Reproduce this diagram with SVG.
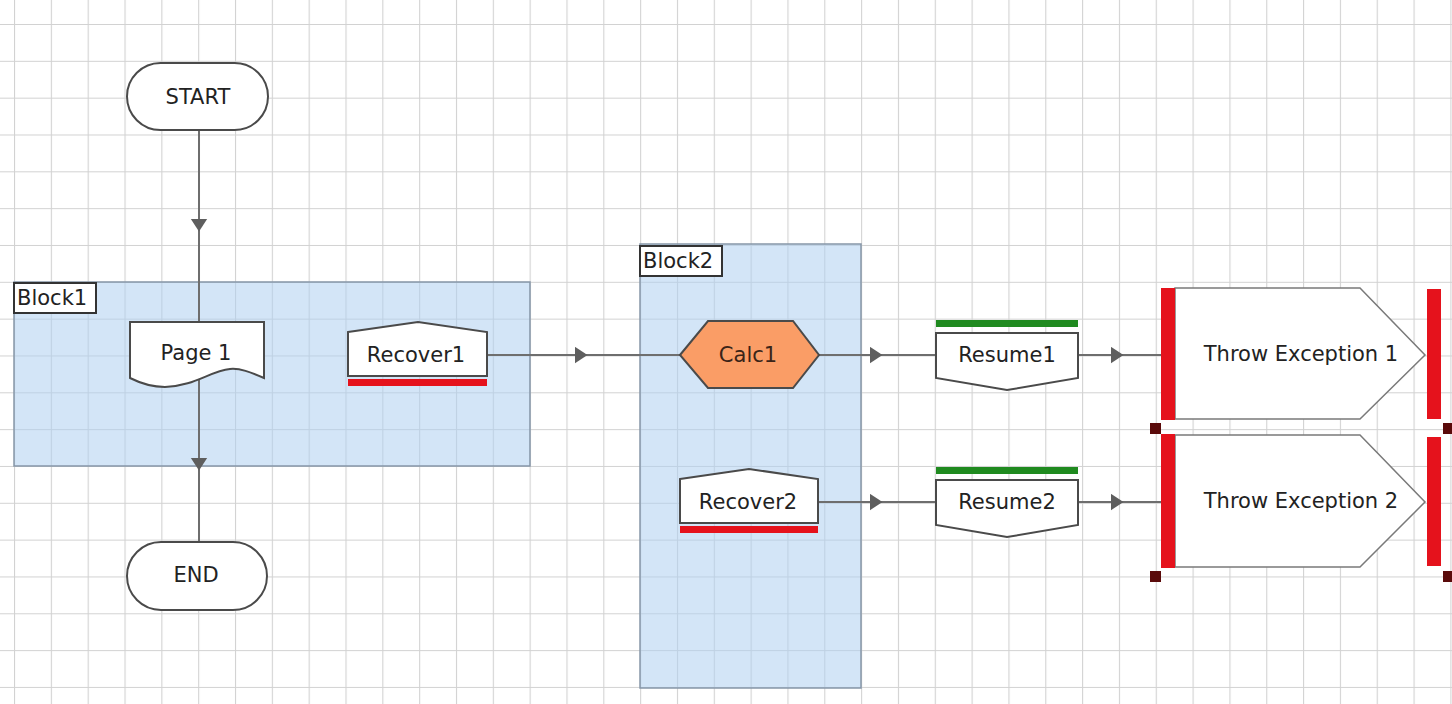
<svg xmlns="http://www.w3.org/2000/svg" width="1452" height="704" viewBox="0 0 1452 704">
<defs>
<pattern id="grid" patternUnits="userSpaceOnUse" x="14" y="24" width="36.83" height="36.83">
<path d="M0.5 0 V36.83 M0 0.5 H36.83" fill="none" stroke="#d2d2d2" stroke-width="1.2"/>
</pattern>
<marker id="arr" markerUnits="userSpaceOnUse" markerWidth="16" markerHeight="20" refX="6.5" refY="8.5" orient="auto">
<path d="M0 0 L13 8.5 L0 17 Z" fill="#5e5e5e"/>
</marker>
<style>
.t{font-family:"DejaVu Sans","Liberation Sans",sans-serif;font-size:21px;fill:#222;text-anchor:middle;dominant-baseline:central}
.lbl{font-family:"DejaVu Sans","Liberation Sans",sans-serif;font-size:21px;fill:#222}
.n{fill:#fff;stroke:#4a4a4a;stroke-width:2}
.blk{fill:#afd0f0;fill-opacity:0.55;stroke:#8696a8;stroke-width:1.5}
.lb{fill:#fff;stroke:#333;stroke-width:2}
.c{fill:none;stroke:#6e6e6e;stroke-width:2;marker-mid:url(#arr)}
.red{fill:#e5121c}
.grn{fill:#1f8a1f}
.h{fill:#5a0a0a}
.te{fill:#fff;stroke:#7a7a7a;stroke-width:1.5}
</style>
</defs>
<rect width="1452" height="704" fill="#fff"/>
<rect width="1452" height="704" fill="url(#grid)"/>

<g id="block1">
<rect class="blk" x="14" y="282" width="516" height="184"/>
<rect class="lb" x="14" y="283" width="82" height="30"/>
<text class="lbl" x="17" y="305">Block1</text>
</g>
<g id="block2">
<rect class="blk" x="640" y="244" width="221" height="444"/>
<rect class="lb" x="640" y="246" width="82" height="30"/>
<text class="lbl" x="643" y="268">Block2</text>
</g>

<g id="connectors">
<path class="c" d="M199 130 L199 225 L199 322"/>
<path class="c" d="M199 380 L199 464 L199 542"/>
<path class="c" d="M487 355 L581 355 L680 355"/>
<path class="c" d="M819 355 L876 355 L936 355"/>
<path class="c" d="M1078 355 L1117 355 L1161 355"/>
<path class="c" d="M818 502 L876 502 L936 502"/>
<path class="c" d="M1078 502 L1117 502 L1161 502"/>
</g>

<g id="start">
<rect class="n" x="127" y="63" width="141" height="67" rx="33.5"/>
<text class="t" x="198" y="97">START</text>
</g>
<g id="page1">
<path class="n" d="M130 322 H264 V378 C250 372 240 368 230 369 C210 371 195 386 165 387 C150 387 140 383 130 378 Z"/>
<text class="t" x="196" y="353">Page 1</text>
</g>
<g id="recover1">
<path class="n" d="M348 332 L418 322 L487 332 V376 H348 Z"/>
<rect class="red" x="348" y="379" width="139" height="7"/>
<text class="t" x="416" y="355">Recover1</text>
</g>
<g id="calc1">
<path d="M680 355 L708 321 H793 L819 355 L793 388 H708 Z" fill="#fa9d66" stroke="#4a4a4a" stroke-width="2"/>
<text class="t" x="748" y="355" style="fill:#3a2418">Calc1</text>
</g>
<g id="recover2">
<path class="n" d="M680 479 L749 469 L818 479 V523 H680 Z"/>
<rect class="red" x="680" y="526" width="138" height="7"/>
<text class="t" x="748" y="502">Recover2</text>
</g>
<g id="resume1">
<rect class="grn" x="936" y="320" width="142" height="7"/>
<path class="n" d="M936 333 H1078 V378 L1007 390 L936 378 Z"/>
<text class="t" x="1007" y="355">Resume1</text>
</g>
<g id="resume2">
<rect class="grn" x="936" y="467" width="142" height="7"/>
<path class="n" d="M936 480 H1078 V525 L1007 537 L936 525 Z"/>
<text class="t" x="1007" y="502">Resume2</text>
</g>
<g id="throw1">
<path class="te" d="M1175 288 H1360 L1425 355 L1360 419 H1175 Z"/>
<rect class="red" x="1161" y="288" width="14" height="132"/>
<rect class="red" x="1427" y="289" width="14" height="130"/>
<text class="t" x="1301" y="354">Throw Exception 1</text>
</g>
<g id="throw2">
<path class="te" d="M1175 435 H1360 L1425 502 L1360 567 H1175 Z"/>
<rect class="red" x="1161" y="434" width="14" height="134"/>
<rect class="red" x="1427" y="437" width="14" height="129"/>
<text class="t" x="1301" y="501">Throw Exception 2</text>
</g>
<g id="handles">
<rect class="h" x="1150" y="423" width="11" height="11"/>
<rect class="h" x="1443" y="423" width="11" height="11"/>
<rect class="h" x="1150" y="571" width="11" height="11"/>
<rect class="h" x="1443" y="571" width="11" height="11"/>
</g>
<g id="end">
<rect class="n" x="127" y="542" width="140" height="68" rx="34"/>
<text class="t" x="196" y="575">END</text>
</g>
</svg>
